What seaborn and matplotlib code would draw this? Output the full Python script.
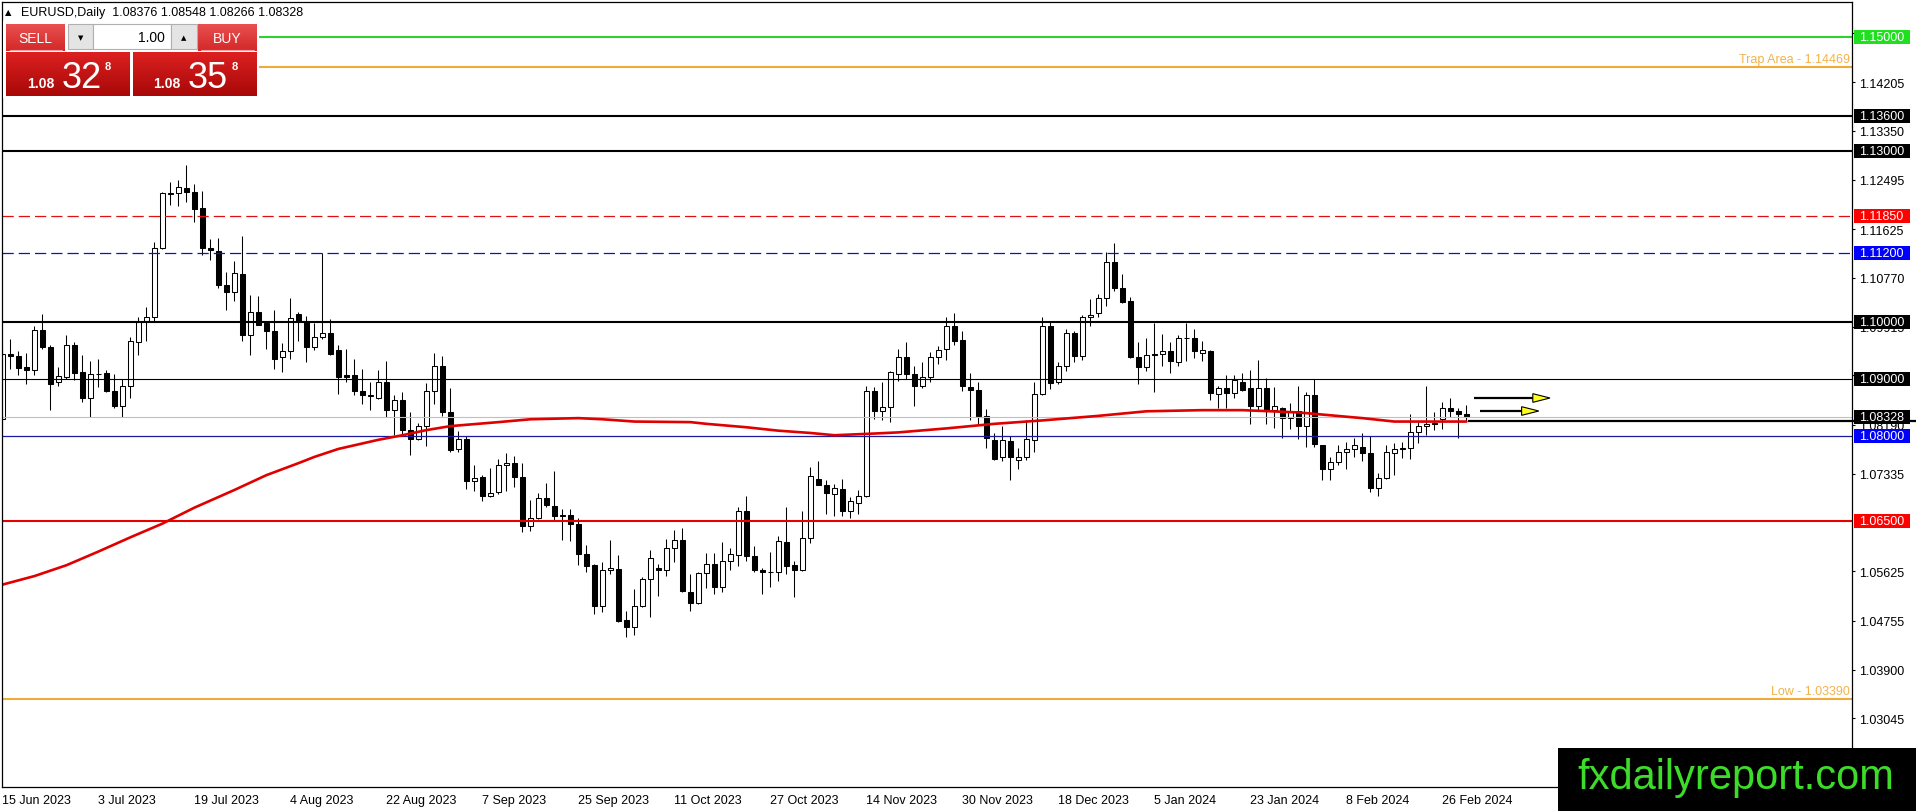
import numpy as np
import pandas as pd
import matplotlib
matplotlib.use("Agg")
import matplotlib.pyplot as plt
import matplotlib.transforms as mtransforms
from matplotlib.patches import Rectangle, Polygon
from matplotlib.colors import LinearSegmentedColormap
import seaborn as sns

sns.set_style("white")
plt.rcParams['font.family'] = ['Liberation Sans', 'DejaVu Sans']
plt.rcParams.update({'text.color': 'black', 'axes.edgecolor': 'black',
                     'xtick.color': 'black', 'ytick.color': 'black'})

# ---------------- data (EURUSD daily) ----------------
opens = [1.0830, 1.0944, 1.0940, 1.0921, 1.0916, 1.0985, 1.0956, 1.0894, 1.0904, 1.0960,
         1.0912, 1.0866, 1.0909, 1.0911, 1.0879, 1.0853, 1.0887, 1.0964, 1.1001, 1.1008,
         1.1129, 1.1224, 1.1226, 1.1235, 1.1228, 1.1199, 1.1130, 1.1124, 1.1065, 1.1052,
         1.1084, 1.0976, 1.1017, 1.0997, 1.0984, 1.0938, 1.0949, 1.1014, 1.1001, 1.0956,
         1.0973, 1.0981, 1.0951, 1.0907, 1.0907, 1.0879, 1.0870, 1.0867, 1.0894, 1.0845,
         1.0863, 1.0810, 1.0794, 1.0817, 1.0879, 1.0922, 1.0842, 1.0776, 1.0795, 1.0721,
         1.0727, 1.0694, 1.0701, 1.0749, 1.0752, 1.0728, 1.0642, 1.0656, 1.0691, 1.0677,
         1.0661, 1.0661, 1.0646, 1.0592, 1.0573, 1.0501, 1.0565, 1.0567, 1.0477, 1.0464,
         1.0502, 1.0549, 1.0569, 1.0565, 1.0603, 1.0618, 1.0526, 1.0506, 1.0559, 1.0575,
         1.0534, 1.0580, 1.0591, 1.0668, 1.0589, 1.0565, 1.0562, 1.0562, 1.0613, 1.0574,
         1.0565, 1.0620, 1.0724, 1.0714, 1.0698, 1.0707, 1.0668, 1.0683, 1.0695, 1.0878,
         1.0844, 1.0850, 1.0909, 1.0939, 1.0909, 1.0887, 1.0904, 1.0939, 1.0952, 1.0992,
         1.0968, 1.0885, 1.0880, 1.0834, 1.0793, 1.0762, 1.0791, 1.0758, 1.0763, 1.0793,
         1.0873, 1.0992, 1.0894, 1.0922, 1.0980, 1.0940, 1.1009, 1.1016, 1.1041, 1.1104,
         1.1060, 1.1036, 1.0939, 1.0920, 1.0944, 1.0943, 1.0949, 1.0929, 1.0971, 1.0971,
         1.0945, 1.0949, 1.0873, 1.0883, 1.0875, 1.0894, 1.0883, 1.0852, 1.0884, 1.0846,
         1.0849, 1.0832, 1.0843, 1.0817, 1.0872, 1.0784, 1.0741, 1.0754, 1.0772, 1.0776,
         1.0780, 1.0770, 1.0708, 1.0726, 1.0770, 1.0776, 1.0779, 1.0807, 1.0818, 1.0820,
         1.0829, 1.0849, 1.0844, 1.08376]
highs = [1.0952, 1.0970, 1.0948, 1.0946, 1.0992, 1.1013, 1.0959, 1.0921, 1.0977, 1.0964,
         1.0942, 1.0932, 1.0935, 1.0916, 1.0909, 1.0900, 1.0973, 1.1008, 1.1026, 1.1140,
         1.1227, 1.1245, 1.1249, 1.1275, 1.1241, 1.1230, 1.1146, 1.1147, 1.1087, 1.1106,
         1.1150, 1.1047, 1.1046, 1.1002, 1.1021, 1.0963, 1.1042, 1.1017, 1.1010, 1.0997,
         1.1120, 1.1005, 1.0959, 1.0953, 1.0935, 1.0918, 1.0894, 1.0915, 1.0931, 1.0871,
         1.0877, 1.0842, 1.0823, 1.0893, 1.0946, 1.0940, 1.0883, 1.0808, 1.0800, 1.0749,
         1.0732, 1.0744, 1.0759, 1.0769, 1.0765, 1.0753, 1.0688, 1.0699, 1.0718, 1.0738,
         1.0672, 1.0671, 1.0656, 1.0608, 1.0576, 1.0578, 1.0617, 1.0591, 1.0493, 1.0531,
         1.0552, 1.0600, 1.0575, 1.0619, 1.0635, 1.0638, 1.0558, 1.0562, 1.0595, 1.0595,
         1.0613, 1.0604, 1.0676, 1.0694, 1.0607, 1.0569, 1.0596, 1.0625, 1.0675, 1.0581,
         1.0669, 1.0746, 1.0756, 1.0723, 1.0715, 1.0725, 1.0692, 1.0705, 1.0888, 1.0886,
         1.0895, 1.0913, 1.0952, 1.0964, 1.0922, 1.0929, 1.0947, 1.0958, 1.1008, 1.1016,
         1.0983, 1.0911, 1.0894, 1.0847, 1.0805, 1.0817, 1.0799, 1.0778, 1.0827, 1.0895,
         1.1008, 1.1002, 1.0930, 1.0987, 1.0984, 1.1011, 1.1040, 1.1049, 1.1122, 1.1139,
         1.1084, 1.1044, 1.0964, 1.0971, 1.0998, 1.0978, 1.0965, 1.0976, 1.0998, 1.0987,
         1.0967, 1.0950, 1.0887, 1.0907, 1.0907, 1.0911, 1.0916, 1.0933, 1.0901, 1.0886,
         1.0850, 1.0858, 1.0887, 1.0877, 1.0900, 1.0784, 1.0763, 1.0784, 1.0789, 1.0796,
         1.0805, 1.0800, 1.0735, 1.0784, 1.0788, 1.0789, 1.0839, 1.0825, 1.0887, 1.0841,
         1.0860, 1.0867, 1.0848, 1.08548]
lows = [1.0800, 1.0918, 1.0906, 1.0891, 1.0906, 1.0953, 1.0845, 1.0887, 1.0900, 1.0898,
        1.0859, 1.0833, 1.0886, 1.0877, 1.0849, 1.0833, 1.0866, 1.0942, 1.0966, 1.1002,
        1.1128, 1.1205, 1.1203, 1.1210, 1.1175, 1.1117, 1.1108, 1.1059, 1.1020, 1.1037,
        1.0966, 1.0942, 1.0994, 1.0952, 1.0918, 1.0912, 1.0934, 1.0966, 1.0929, 1.0950,
        1.0969, 1.0941, 1.0874, 1.0895, 1.0871, 1.0855, 1.0845, 1.0865, 1.0833, 1.0802,
        1.0804, 1.0766, 1.0792, 1.0782, 1.0855, 1.0835, 1.0772, 1.0772, 1.0706, 1.0703,
        1.0685, 1.0693, 1.0698, 1.0704, 1.0710, 1.0631, 1.0633, 1.0654, 1.0675, 1.0652,
        1.0617, 1.0615, 1.0574, 1.0561, 1.0488, 1.0491, 1.0558, 1.0474, 1.0448, 1.0450,
        1.0499, 1.0482, 1.0519, 1.0554, 1.0579, 1.0526, 1.0493, 1.0505, 1.0533, 1.0522,
        1.0526, 1.0564, 1.0571, 1.0581, 1.0561, 1.0523, 1.0534, 1.0546, 1.0558, 1.0517,
        1.0563, 1.0612, 1.0714, 1.0663, 1.0659, 1.0659, 1.0655, 1.0663, 1.0692, 1.0829,
        1.0828, 1.0824, 1.0897, 1.0900, 1.0852, 1.0883, 1.0894, 1.0926, 1.0933, 1.0959,
        1.0879, 1.0828, 1.0819, 1.0778, 1.0758, 1.0755, 1.0723, 1.0741, 1.0758, 1.0772,
        1.0872, 1.0882, 1.0891, 1.0914, 1.0929, 1.0933, 1.0993, 1.1008, 1.1028, 1.1054,
        1.1033, 1.0936, 1.0891, 1.0914, 1.0876, 1.0923, 1.0910, 1.0923, 1.0931, 1.0937,
        1.0932, 1.0862, 1.0848, 1.0848, 1.0866, 1.0878, 1.0821, 1.0846, 1.0821, 1.0814,
        1.0796, 1.0812, 1.0795, 1.0780, 1.0780, 1.0722, 1.0722, 1.0749, 1.0741, 1.0763,
        1.0755, 1.0701, 1.0694, 1.0724, 1.0732, 1.0761, 1.0760, 1.0788, 1.0802, 1.0811,
        1.0812, 1.0833, 1.0796, 1.08266]
closes = [1.0943, 1.0940, 1.0919, 1.0916, 1.0985, 1.0955, 1.0891, 1.0905, 1.0959, 1.0911,
          1.0866, 1.0909, 1.0908, 1.0878, 1.0853, 1.0887, 1.0966, 1.0999, 1.1008, 1.1129,
          1.1226, 1.1226, 1.1236, 1.1227, 1.1198, 1.1129, 1.1125, 1.1064, 1.1052, 1.1085,
          1.0976, 1.1017, 1.0995, 1.0983, 1.0935, 1.0949, 1.1006, 1.1001, 1.0956, 1.0973,
          1.0980, 1.0944, 1.0904, 1.0904, 1.0878, 1.0871, 1.0872, 1.0894, 1.0845, 1.0863,
          1.0810, 1.0795, 1.0818, 1.0879, 1.0922, 1.0842, 1.0775, 1.0794, 1.0721, 1.0726,
          1.0694, 1.0700, 1.0749, 1.0753, 1.0728, 1.0642, 1.0655, 1.0691, 1.0678, 1.0659,
          1.0659, 1.0646, 1.0592, 1.0572, 1.0502, 1.0564, 1.0569, 1.0476, 1.0464, 1.0502,
          1.0549, 1.0585, 1.0565, 1.0604, 1.0618, 1.0527, 1.0506, 1.0559, 1.0575, 1.0534,
          1.0581, 1.0592, 1.0668, 1.0589, 1.0564, 1.0561, 1.0561, 1.0615, 1.0572, 1.0565,
          1.0620, 1.0730, 1.0714, 1.0699, 1.0708, 1.0668, 1.0685, 1.0695, 1.0878, 1.0844,
          1.0850, 1.0912, 1.0939, 1.0909, 1.0887, 1.0904, 1.0938, 1.0951, 1.0992, 1.0967,
          1.0887, 1.0881, 1.0834, 1.0797, 1.0760, 1.0793, 1.0762, 1.0763, 1.0794, 1.0873,
          1.0992, 1.0893, 1.0922, 1.0980, 1.0940, 1.1009, 1.1012, 1.1041, 1.1104, 1.1059,
          1.1035, 1.0939, 1.0920, 1.0942, 1.0941, 1.0948, 1.0931, 1.0971, 1.0972, 1.0948,
          1.0951, 1.0875, 1.0883, 1.0875, 1.0898, 1.0881, 1.0852, 1.0884, 1.0846, 1.0852,
          1.0832, 1.0841, 1.0817, 1.0871, 1.0786, 1.0741, 1.0754, 1.0772, 1.0777, 1.0784,
          1.0770, 1.0708, 1.0726, 1.0772, 1.0777, 1.0779, 1.0807, 1.0817, 1.0821, 1.0822,
          1.0849, 1.0843, 1.0838, 1.08328]

# 200-day moving average, read at a number of bars
ma_bar = [0, 4, 8, 12, 16, 20, 24, 29, 33, 37, 39, 42, 47, 50, 53, 56, 62, 66, 72, 75,
          79, 86, 88, 93, 97, 101, 104, 109, 112, 118, 124, 130, 137, 143, 150, 155, 162,
          166, 170, 174, 183]
ma_value = [1.0539, 1.0554, 1.0573, 1.0597, 1.0622, 1.0646, 1.0674, 1.0705, 1.0731, 1.0752,
            1.0763, 1.0777, 1.0793, 1.0801, 1.0810, 1.0817, 1.0824, 1.0829, 1.0831, 1.0829,
            1.0825, 1.0824, 1.0821, 1.0815, 1.0809, 1.0805, 1.0801, 1.0804, 1.0806, 1.0813,
            1.0821, 1.0827, 1.0835, 1.0843, 1.0845, 1.0845, 1.0841, 1.0836, 1.0831, 1.0825,
            1.0825]

date_labels = ['15 Jun 2023', '3 Jul 2023', '19 Jul 2023', '4 Aug 2023', '22 Aug 2023',
               '7 Sep 2023', '25 Sep 2023', '11 Oct 2023', '27 Oct 2023', '14 Nov 2023',
               '30 Nov 2023', '18 Dec 2023', '5 Jan 2024', '23 Jan 2024', '8 Feb 2024',
               '26 Feb 2024']
price_ticks = [1.15060, 1.14205, 1.13350, 1.12495, 1.11625, 1.10770, 1.09915, 1.09060,
               1.08190, 1.07335, 1.05625, 1.04755, 1.03900, 1.03045]

level_price = [1.15000, 1.14469, 1.13600, 1.13000, 1.11850, 1.11200, 1.10000, 1.09000,
               1.08328, 1.08000, 1.06500, 1.03390]
level_label = ['1.15000', None, '1.13600', '1.13000', '1.11850', '1.11200', '1.10000',
               '1.09000', '1.08328', '1.08000', '1.06500', None]
level_note = [None, 'Trap Area - 1.14469', None, None, None, None, None, None, None, None,
              None, 'Low - 1.03390']
ray_price = 1.0826
arrow_price = [1.08663, 1.08435]
arrow_from = [183.95, 184.7]
arrow_to = [191.3, 189.9]

# styles of the levels (kept apart from the values)
level_color = ['#2fd12f', '#f0aa3c', 'black', 'black', '#e01010', '#1010c0', 'black',
               'black', '#c0c0c0', '#1a1aa0', '#e60000', '#f0aa3c']
level_width = [1.5, 1.5, 1.5, 1.5, 0.9, 0.9, 1.5, 0.8, 0.8, 0.9, 1.5, 1.5]
level_style = ['-', '-', '-', '-', (0, (9, 4)), (0, (9, 4)), '-', '-', '-', '-', '-', '-']
box_color = {'1.15000': '#1ee01e', '1.11850': '#ff0000', '1.11200': '#0000ff',
             '1.08000': '#0000ff', '1.06500': '#ff0000'}

df = pd.DataFrame({'bar': np.arange(len(opens)), 'open': opens, 'high': highs,
                   'low': lows, 'close': closes})

# ---------------- figure layout (pixels) ----------------
W, H, DPI = 1916, 812, 100
X0, X1, Y0, Y1 = 2.4, 1852, 2.7, 788
PX_PER_BAR = 8.0
PX_PER_PRICE = 5702.0
REF_PRICE, REF_Y = 1.15, 37.67

fig = plt.figure(figsize=(W / DPI, H / DPI), dpi=DPI)
ax = fig.add_axes([X0 / W, 1 - Y1 / H, (X1 - X0) / W, (Y1 - Y0) / H])
ax.set_facecolor('white')
ax.set_xlim(0, (X1 - X0) / PX_PER_BAR)
ax.set_ylim(REF_PRICE - (Y1 - REF_Y) / PX_PER_PRICE, REF_PRICE + (REF_Y - Y0) / PX_PER_PRICE)

# candles
up = df['close'] >= df['open']
ax.vlines(df['bar'], df['low'], df['high'], color='black', linewidth=0.75, zorder=3)
body = (df['close'] - df['open']).abs().clip(lower=0.00003)
ax.bar(df['bar'], body, bottom=np.minimum(df['open'], df['close']), width=0.6,
       color=np.where(up, 'white', 'black'), edgecolor='black', linewidth=0.75, zorder=4)

# horizontal levels
for p, c, lw, ls in zip(level_price, level_color, level_width, level_style):
    ax.axhline(p, color=c, linewidth=lw, linestyle=ls, zorder=6)

# moving average
sns.lineplot(x=ma_bar, y=ma_value, ax=ax, color='#e00000', linewidth=1.9, zorder=7)

# black ray after the last candle, running over the price scale
ax.plot([df['bar'].iloc[-1] + 0.2, (W - X0) / PX_PER_BAR], [ray_price, ray_price],
        color='black', linewidth=1.6, zorder=9, clip_on=False, solid_capstyle='butt')

# arrows
head_len, head_h = 2.15, 0.00076
for y, xa, xb in zip(arrow_price, arrow_from, arrow_to):
    ax.plot([xa, xb], [y, y], color='black', linewidth=1.6, zorder=8, solid_capstyle='butt')
    ax.add_patch(Polygon([(xb, y + head_h), (xb + head_len, y), (xb, y - head_h)],
                         closed=True, facecolor='#ffff1e', edgecolor='black',
                         linewidth=0.8, zorder=8))

# notes on levels
blend = mtransforms.blended_transform_factory(ax.transAxes, ax.transData)
for p, note, c in zip(level_price, level_note, level_color):
    if note:
        ax.text(1 - 2 / (X1 - X0), p + 1.5 / PX_PER_PRICE, note, transform=blend,
                ha='right', va='bottom', fontsize=9, color='#f2b24c', zorder=6)

# axes ticks
ax.yaxis.tick_right()
ax.set_yticks(price_ticks, [f'{v:.5f}' for v in price_ticks])
ax.tick_params(axis='y', direction='out', length=2.2, width=0.8, pad=2.8, labelsize=9)
ax.set_xticks(np.arange(0, 12 * len(date_labels), 12), date_labels)
ax.tick_params(axis='x', direction='out', length=3.5, width=0.8, pad=1.5, labelsize=9)
for lbl in ax.get_xticklabels():
    lbl.set_ha('left')
for s in ax.spines.values():
    s.set_color('black')
    s.set_linewidth(0.9)
    s.set_zorder(10)

# coloured price boxes on the scale
bx0 = (1854 - X0) / (X1 - X0)
bw = (1910 - 1854) / (X1 - X0)
bh = 14 / PX_PER_PRICE
tx = (1859 - X0) / (X1 - X0)
for p, lab in zip(level_price, level_label):
    if lab:
        ax.add_patch(Rectangle((bx0, p - bh / 2), bw, bh, transform=blend,
                               facecolor=box_color.get(lab, 'black'), edgecolor='none',
                               clip_on=False, zorder=8))
        ax.text(tx, p, lab, transform=blend, ha='left', va='center', fontsize=9,
                color='white', clip_on=False, zorder=9)

# ---------------- overlay: trading panel, header, logo ----------------
ov = fig.add_axes([0, 0, 1, 1], zorder=10)
ov.patch.set_alpha(0)
ov.axis('off')

def grad(x0, x1, y0, y1, top, bottom):
    cmap = LinearSegmentedColormap.from_list('g', [top, bottom])
    ov.imshow(np.linspace(0, 1, 50).reshape(-1, 1), cmap=cmap, aspect='auto',
              extent=[x0, x1, y1, y0], interpolation='bilinear', zorder=2)

ov.add_patch(Rectangle((3, 22), 256, 77, facecolor='white', edgecolor='none', zorder=1))
grad(6, 65, 25, 52, '#e85050', '#d42828')
grad(198, 257, 25, 52, '#e85050', '#d42828')
ov.plot([10, 62], [51, 51], color='#f4a0a0', linewidth=0.8, zorder=3)
ov.plot([201, 254], [51, 51], color='#f4a0a0', linewidth=0.8, zorder=3)
ov.add_patch(Rectangle((68, 25), 25, 25, facecolor='#e4e4e4', edgecolor='#b0b0b0', lw=0.8, zorder=2))
ov.add_patch(Rectangle((93, 25), 78, 25, facecolor='white', edgecolor='#b0b0b0', lw=0.8, zorder=2))
ov.add_patch(Rectangle((171, 25), 26, 25, facecolor='#e4e4e4', edgecolor='#b0b0b0', lw=0.8, zorder=2))
grad(6, 130, 53, 97, '#dc2020', '#a80808')
grad(133, 257, 53, 97, '#dc2020', '#a80808')

ov.text(35.5, 39, 'SELL', color='white', fontsize=10, ha='center', va='center', zorder=4)
ov.text(227.5, 39, 'BUY', color='white', fontsize=10, ha='center', va='center', zorder=4)
ov.text(165, 38.5, '1.00', color='black', fontsize=10, ha='right', va='center', zorder=4)
ov.text(80.5, 38.5, '▼', color='black', fontsize=5, ha='center', va='center', zorder=4,
        family=['DejaVu Sans'])
ov.text(184, 38.5, '▲', color='black', fontsize=5, ha='center', va='center', zorder=4,
        family=['DejaVu Sans'])
for xs, big in [((26.7, 61.7, 105), '32'), ((153, 188, 231.7), '35')]:
    ov.text(xs[0], 88, '1.08', color='white', fontsize=10, fontweight='bold',
            ha='left', va='baseline', zorder=4)
    ov.text(xs[1], 88, big, color='white', fontsize=26, ha='left', va='baseline', zorder=4)
    ov.text(xs[2], 70, '8', color='white', fontsize=8, fontweight='bold',
            ha='left', va='baseline', zorder=4)

ov.text(8.5, 12.5, '▲', fontsize=6, ha='center', va='center', family=['DejaVu Sans'])
ov.text(20.7, 13, 'EURUSD,Daily  1.08376 1.08548 1.08266 1.08328', fontsize=9,
        ha='left', va='center')

ov.add_patch(Rectangle((1558, 749), 358, 63, facecolor='black', edgecolor='none', zorder=3))
ov.text(1736, 789, 'fxdailyreport.com', color='#3ddc2a', fontsize=30, ha='center',
        va='baseline', zorder=4)
ov.set_xlim(0, W)
ov.set_ylim(H, 0)

fig.savefig('out.png', dpi=DPI)
